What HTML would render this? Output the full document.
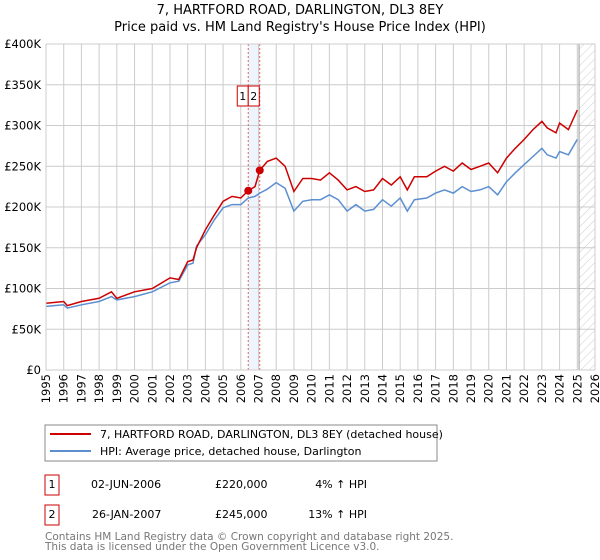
<!DOCTYPE html>
<html><head><meta charset="utf-8"><style>
body{margin:0;background:#fff;font-family:"Liberation Sans","DejaVu Sans",sans-serif;}
#wrap{position:relative;width:600px;height:560px;overflow:hidden;}
</style></head><body><div id="wrap">
<svg id="chart" width="600" height="560" xmlns="http://www.w3.org/2000/svg" font-family="DejaVu Sans, Liberation Sans, sans-serif">
<defs><pattern id="hatch" width="6" height="6" patternUnits="userSpaceOnUse" patternTransform="rotate(45)"><line x1="0" y1="0" x2="0" y2="6" stroke="#ccc" stroke-width="1"/></pattern></defs>
<text x="300" y="14" text-anchor="middle" font-size="13">7, HARTFORD ROAD, DARLINGTON, DL3 8EY</text>
<text x="300" y="31" text-anchor="middle" font-size="13">Price paid vs. HM Land Registry's House Price Index (HPI)</text>
<g id="grid"></g><g id="marks"></g>
<rect x="45" y="425" width="392" height="36" fill="none" stroke="#888"/>
<line x1="50" y1="434" x2="91" y2="434" stroke="#cc0000" stroke-width="2"/>
<text x="100" y="438" font-size="11">7, HARTFORD ROAD, DARLINGTON, DL3 8EY (detached house)</text>
<line x1="50" y1="451" x2="91" y2="451" stroke="#5b8fd0" stroke-width="2"/>
<text x="100" y="455" font-size="11">HPI: Average price, detached house, Darlington</text>
<g font-size="11">
<rect x="45" y="475" width="14" height="20" fill="none" stroke="#cc0000"/>
<text x="52" y="488" text-anchor="middle">1</text>
<text x="91" y="488">02-JUN-2006</text><text x="215" y="488">£220,000</text><text x="367" y="488" text-anchor="end">4% ↑ HPI</text>
<rect x="45" y="505" width="14" height="20" fill="none" stroke="#cc0000"/>
<text x="52" y="518" text-anchor="middle">2</text>
<text x="92" y="518">26-JAN-2007</text><text x="215" y="518">£245,000</text><text x="367" y="518" text-anchor="end">13% ↑ HPI</text>
</g>
<text x="45" y="540" font-size="10.5" fill="#777">Contains HM Land Registry data © Crown copyright and database right 2025.</text>
<text x="45" y="550" font-size="10.5" fill="#777">This data is licensed under the Open Government Licence v3.0.</text>
</svg>
<script>
const dates=[1995,1996,1996.2,1997,1998,1998.7,1999,2000,2001,2002,2002.5,2003,2003.3,2003.5,2004,2004.5,2005,2005.5,2006,2006.42,2006.8,2007.07,2007.5,2008,2008.5,2009,2009.5,2010,2010.5,2011,2011.5,2012,2012.5,2013,2013.5,2014,2014.5,2015,2015.4,2015.8,2016.5,2017,2017.5,2018,2018.5,2019,2019.5,2020,2020.5,2021,2021.5,2022,2022.5,2023,2023.3,2023.8,2024,2024.5,2025];
const hpiValues=[78,80,76,80,84,90,86,90,96,107,109,129,131,152,166,184,199,203,203,211,213,217,222,230,223,195,207,209,209,215,209,195,203,195,197,209,201,211,195,209,211,217,221,217,225,219,221,225,215,231,242,252,262,272,264,260,268,264,283];
const propValues=[82,84,79,84,88,96,88,96,100,113,111,133,135,150,172,190,207,213,211,220,225,245,256,260,250,219,235,235,233,242,233,221,225,219,221,235,227,237,221,237,237,244,250,244,254,246,250,254,242,260,272,283,295,305,297,291,303,295,319];
const saleDates=[2006.42,2007.07];
const saleValues=[220,245];
const saleLabels=["1","2"];
const yTicks=[0,50,100,150,200,250,300,350,400];
const yTickLabels=["£0","£50K","£100K","£150K","£200K","£250K","£300K","£350K","£400K"];
const xTicks=[1995,1996,1997,1998,1999,2000,2001,2002,2003,2004,2005,2006,2007,2008,2009,2010,2011,2012,2013,2014,2015,2016,2017,2018,2019,2020,2021,2022,2023,2024,2025,2026];
const dataEnd=2025.1;

const X0=46,X1=595,Y0=370,Y1=44;
const xs=d=>X0+(d-1995)/(2026-1995)*(X1-X0);
const ys=v=>Y0-v/400*(Y0-Y1);
const NS="http://www.w3.org/2000/svg";
function mk(tag,attrs,parent){const e=document.createElementNS(NS,tag);for(const k in attrs)e.setAttribute(k,attrs[k]);parent.appendChild(e);return e;}
const grid=document.getElementById('grid'),marks=document.getElementById('marks');
// sale band
let band=mk('rect',{x:xs(saleDates[0]),y:Y1,width:xs(saleDates[1])-xs(saleDates[0]),height:Y0-Y1,fill:'#eef4fc'},grid);


yTicks.forEach((t,i)=>{
 let l=mk('line',{x1:X0,x2:X1,y1:ys(t),y2:ys(t),stroke:'#cccccc'},grid);
 
 
 let tx=mk('text',{x:X0-5,y:ys(t)+4,'text-anchor':'end','font-size':11.5},grid);
 tx.textContent=yTickLabels[i];
 
 
});
xTicks.forEach(t=>{
 let l=mk('line',{x1:xs(t),x2:xs(t),y1:Y1,y2:Y0,stroke:'#cccccc'},grid);
 
 
 let tx=mk('text',{x:0,y:0,'text-anchor':'end','font-size':11.5,transform:`translate(${xs(t)+4},${Y0+4}) rotate(-90)`},grid);
 tx.textContent=t;
 
 
});
let h=mk('rect',{x:xs(dataEnd),y:Y1,width:X1-xs(dataEnd),height:Y0-Y1,fill:'url(#hatch)'},grid);


let hl=mk('line',{x1:xs(dataEnd),x2:xs(dataEnd),y1:Y1,y2:Y0,stroke:'#999'},grid);


saleDates.forEach(d=>{
 let l=mk('line',{x1:xs(d),x2:xs(d),y1:Y1,y2:Y0,stroke:'#e06060','stroke-dasharray':'2,2'},grid);
 
 
});
function path(vals){return vals.map((v,i)=>(i?'L':'M')+xs(dates[i]).toFixed(1)+','+ys(v).toFixed(1)).join('');}
let pb=mk('path',{d:path(hpiValues),fill:'none',stroke:'#5b8fd0','stroke-width':1.5},marks);


let pr=mk('path',{d:path(propValues),fill:'none',stroke:'#cc0000','stroke-width':1.5},marks);


saleDates.forEach((d,i)=>{
 let c=mk('circle',{cx:xs(d),cy:ys(saleValues[i]),r:4,fill:'#cc0000'},marks);
 
 
 const bx=i==0?xs(d)-11:xs(d)-11+ (xs(saleDates[1])-xs(saleDates[0])>=11?0:11-(xs(saleDates[1])-xs(saleDates[0])));
 let r=mk('rect',{x:i==0?xs(saleDates[0])-11:xs(saleDates[0]),y:96-10,width:11,height:20,fill:'#fff',stroke:'#cc0000'},marks);
 
 
 let t=mk('text',{x:(i==0?xs(saleDates[0])-5.5:xs(saleDates[0])+5.5),y:100,'text-anchor':'middle','font-size':11},marks);
 t.textContent=saleLabels[i];
 
 
});
let fr=mk('rect',{x:X0,y:Y1,width:X1-X0,height:Y0-Y1,fill:'none',stroke:'#cccccc'},marks);


</script>
</div></body></html>
